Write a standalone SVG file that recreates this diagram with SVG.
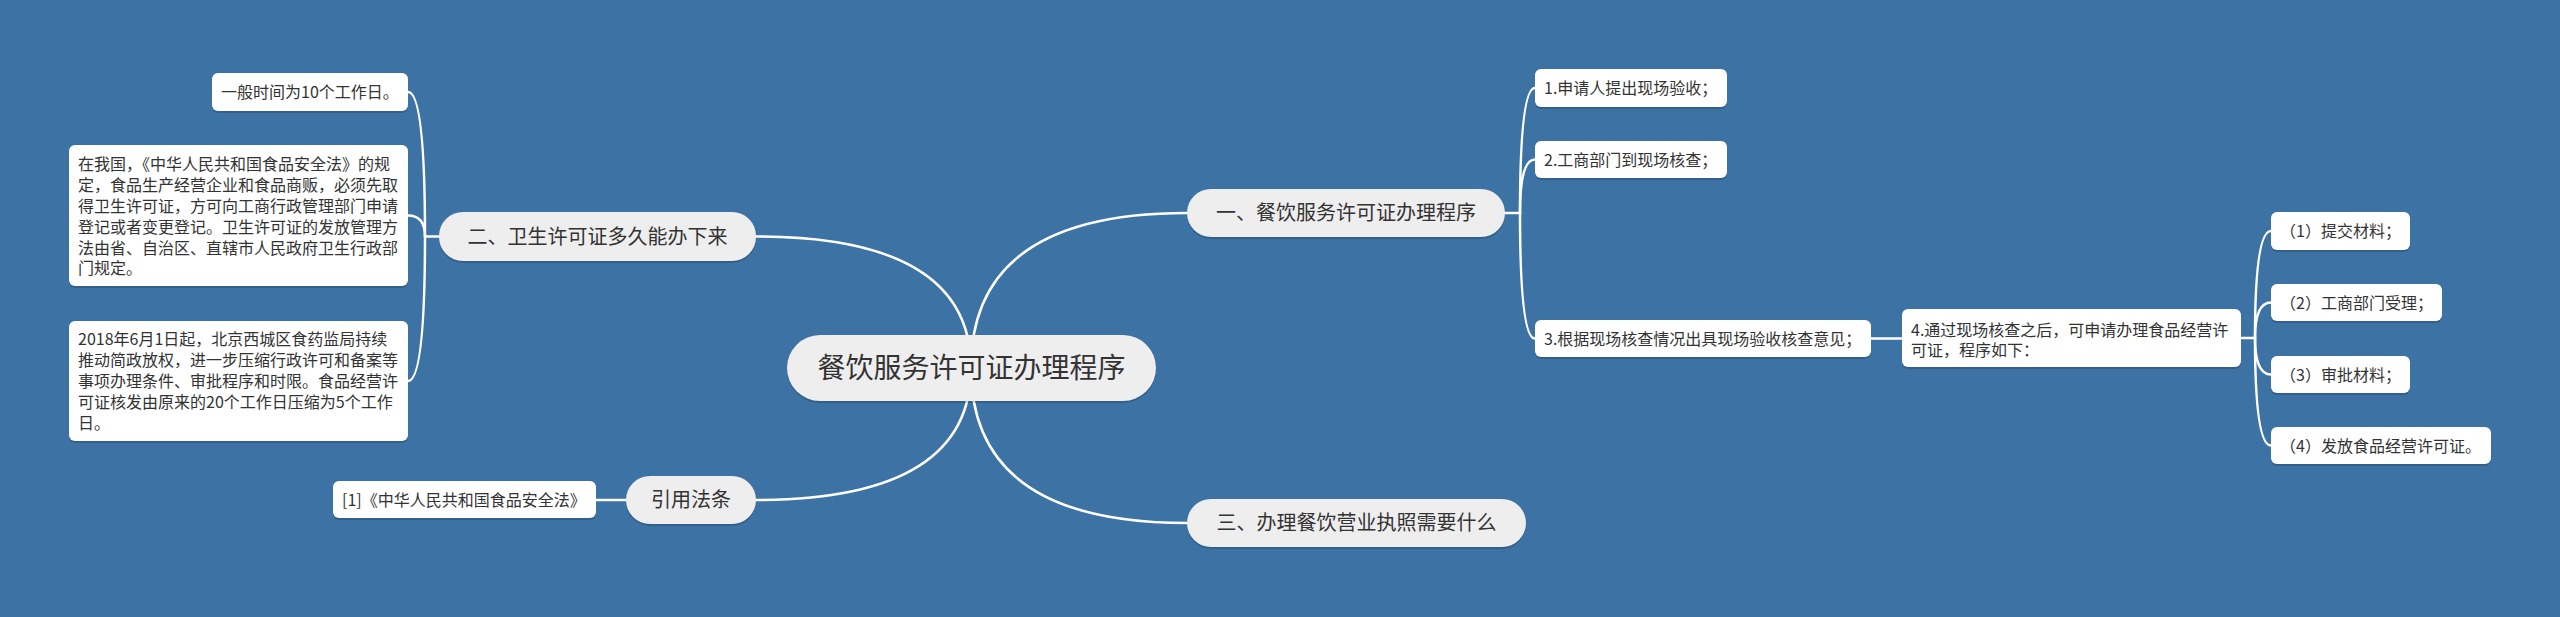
<svg xmlns="http://www.w3.org/2000/svg" width="2560" height="617" viewBox="0 0 2560 617">
<style>
text{font-family:"Noto Sans CJK SC","Microsoft YaHei",sans-serif;fill:#333333}
.root rect.b{fill:#eeeeee}
.topic rect.b{fill:#eeeeee}
.leaf rect.b{fill:#ffffff}
rect.s{fill:#000000;fill-opacity:0.16}
.root text{font-size:28px;text-anchor:middle}
.topic text{font-size:20px;text-anchor:middle}
.leaf text{font-size:16px}
#connectors path{fill:none;stroke:#ffffff;stroke-width:2.5;stroke-linecap:round}
</style>
<rect x="0" y="0" width="2560" height="617" fill="#3d72a5"/>
<g id="connectors">
<path d="M971 368 Q971 213 1187 213"/>
<path d="M971 368 Q971 236.5 756 236.5"/>
<path d="M971 368 Q971 500 756 500"/>
<path d="M971 368 Q971 523 1187 523"/>
<path d="M439 236.5 L425 236.5"/>
<path d="M425 236.5 Q425 92 408 92"/>
<path d="M425 236.5 Q425 215.5 408 215.5"/>
<path d="M425 236.5 Q425 381 408 381"/>
<path d="M626 500 L596 500"/>
<path d="M1505 213 L1520 213"/>
<path d="M1520 213 Q1520 88 1535 88"/>
<path d="M1520 213 Q1520 159.5 1535 159.5"/>
<path d="M1520 213 Q1520 338.5 1535 338.5"/>
<path d="M1871 338.5 L1902 338.5"/>
<path d="M2241 338 L2255 338"/>
<path d="M2255 338 Q2255 231 2271 231"/>
<path d="M2255 338 Q2255 302.5 2271 302.5"/>
<path d="M2255 338 Q2255 374.5 2271 374.5"/>
<path d="M2255 338 Q2255 445.5 2271 445.5"/>
</g>
<g id="root" class="root">
<rect class="s" x="787" y="337" width="369" height="66" rx="33"/>
<rect class="b" x="787" y="335" width="369" height="66" rx="33"/>
<text x="971.5" y="378">餐饮服务许可证办理程序</text>
</g>
<g id="topic-1" class="topic">
<rect class="s" x="1187" y="191" width="318" height="48" rx="24"/>
<rect class="b" x="1187" y="189" width="318" height="48" rx="24"/>
<text x="1346" y="220">一、餐饮服务许可证办理程序</text>
</g>
<g id="topic-2" class="topic">
<rect class="s" x="439" y="214" width="317" height="49" rx="24"/>
<rect class="b" x="439" y="212" width="317" height="49" rx="24"/>
<text x="597.5" y="243.5">二、卫生许可证多久能办下来</text>
</g>
<g id="topic-3" class="topic">
<rect class="s" x="1187" y="501" width="339" height="48" rx="24"/>
<rect class="b" x="1187" y="499" width="339" height="48" rx="24"/>
<text x="1356.5" y="530">三、办理餐饮营业执照需要什么</text>
</g>
<g id="topic-ref" class="topic">
<rect class="s" x="626" y="478" width="130" height="48" rx="24"/>
<rect class="b" x="626" y="476" width="130" height="48" rx="24"/>
<text x="691" y="507">引用法条</text>
</g>
<g id="leaf-2-1" class="leaf">
<rect class="s" x="212" y="75" width="196" height="38" rx="6"/>
<rect class="b" x="212" y="73" width="196" height="38" rx="6"/>
<text x="221" y="98">一般时间为10个工作日。</text>
</g>
<g id="leaf-2-2" class="leaf">
<rect class="s" x="69" y="147" width="339" height="141" rx="6"/>
<rect class="b" x="69" y="145" width="339" height="141" rx="6"/>
<text x="78" y="170">在我国，《中华人民共和国食品安全法》的规</text>
<text x="78" y="191">定，食品生产经营企业和食品商贩，必须先取</text>
<text x="78" y="212">得卫生许可证，方可向工商行政管理部门申请</text>
<text x="78" y="233">登记或者变更登记。卫生许可证的发放管理方</text>
<text x="78" y="254">法由省、自治区、直辖市人民政府卫生行政部</text>
<text x="78" y="274">门规定。</text>
</g>
<g id="leaf-2-3" class="leaf">
<rect class="s" x="69" y="323" width="339" height="120" rx="6"/>
<rect class="b" x="69" y="321" width="339" height="120" rx="6"/>
<text x="78" y="345">2018年6月1日起，北京西城区食药监局持续</text>
<text x="78" y="366">推动简政放权，进一步压缩行政许可和备案等</text>
<text x="78" y="387">事项办理条件、审批程序和时限。食品经营许</text>
<text x="78" y="408">可证核发由原来的20个工作日压缩为5个工作</text>
<text x="78" y="429">日。</text>
</g>
<g id="leaf-ref-1" class="leaf">
<rect class="s" x="333" y="483" width="263" height="37" rx="6"/>
<rect class="b" x="333" y="481" width="263" height="37" rx="6"/>
<text x="342" y="505.5">[1]《中华人民共和国食品安全法》</text>
</g>
<g id="leaf-1-1" class="leaf">
<rect class="s" x="1535" y="71" width="192" height="38" rx="6"/>
<rect class="b" x="1535" y="69" width="192" height="38" rx="6"/>
<text x="1544" y="94">1.申请人提出现场验收；</text>
</g>
<g id="leaf-1-2" class="leaf">
<rect class="s" x="1535" y="143" width="192" height="37" rx="6"/>
<rect class="b" x="1535" y="141" width="192" height="37" rx="6"/>
<text x="1544" y="165.5">2.工商部门到现场核查；</text>
</g>
<g id="leaf-1-3" class="leaf">
<rect class="s" x="1535" y="322" width="336" height="37" rx="6"/>
<rect class="b" x="1535" y="320" width="336" height="37" rx="6"/>
<text x="1544" y="344.5">3.根据现场核查情况出具现场验收核查意见；</text>
</g>
<g id="leaf-1-4" class="leaf">
<rect class="s" x="1902" y="311" width="339" height="58" rx="6"/>
<rect class="b" x="1902" y="309" width="339" height="58" rx="6"/>
<text x="1911" y="336">4.通过现场核查之后，可申请办理食品经营许</text>
<text x="1911" y="356">可证，程序如下：</text>
</g>
<g id="leaf-4-1" class="leaf">
<rect class="s" x="2271" y="214" width="139" height="38" rx="6"/>
<rect class="b" x="2271" y="212" width="139" height="38" rx="6"/>
<text x="2280" y="237">（1）提交材料；</text>
</g>
<g id="leaf-4-2" class="leaf">
<rect class="s" x="2271" y="286" width="171" height="37" rx="6"/>
<rect class="b" x="2271" y="284" width="171" height="37" rx="6"/>
<text x="2280" y="308.5">（2）工商部门受理；</text>
</g>
<g id="leaf-4-3" class="leaf">
<rect class="s" x="2271" y="358" width="139" height="37" rx="6"/>
<rect class="b" x="2271" y="356" width="139" height="37" rx="6"/>
<text x="2280" y="380.5">（3）审批材料；</text>
</g>
<g id="leaf-4-4" class="leaf">
<rect class="s" x="2271" y="429" width="220" height="37" rx="6"/>
<rect class="b" x="2271" y="427" width="220" height="37" rx="6"/>
<text x="2280" y="451.5">（4）发放食品经营许可证。</text>
</g>
</svg>
